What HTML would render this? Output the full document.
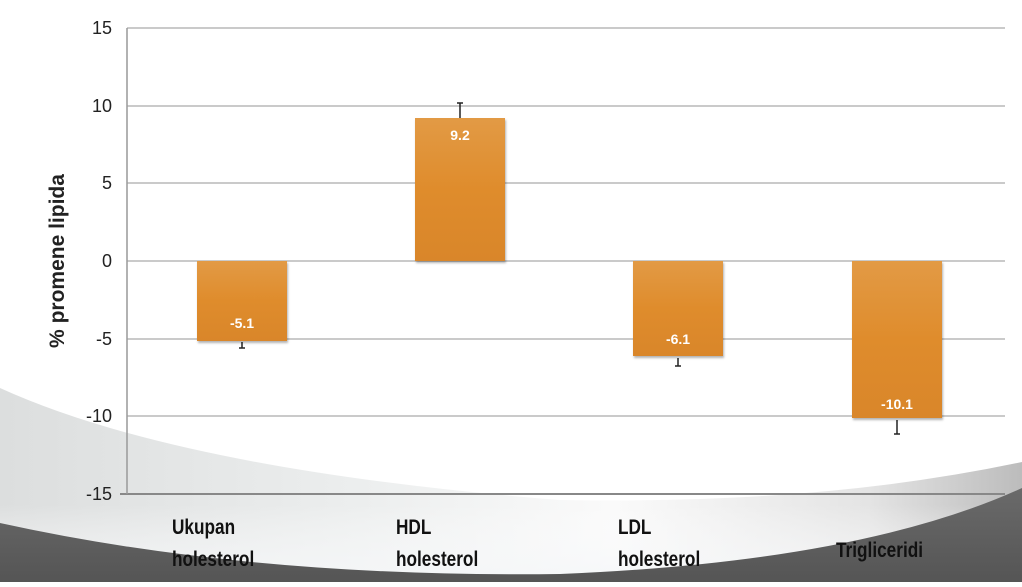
<!DOCTYPE html><html><head><style>body{margin:0;width:1022px;height:582px;overflow:hidden;background:#fff}</style></head><body>
<svg width="1022" height="582" xmlns="http://www.w3.org/2000/svg" font-family="Liberation Sans, sans-serif">
<defs>
<linearGradient id="lg" x1="0" y1="0" x2="1" y2="0"><stop offset="0" stop-color="#dcdede"/><stop offset="0.35" stop-color="#eceeee"/><stop offset="0.6" stop-color="#fafafa"/><stop offset="0.85" stop-color="#e4e4e4"/><stop offset="1" stop-color="#bcbcbc"/></linearGradient>
<linearGradient id="wv" x1="0" y1="0" x2="0" y2="1"><stop offset="0" stop-color="#fff" stop-opacity="0"/><stop offset="0.6" stop-color="#fff" stop-opacity="0"/><stop offset="1" stop-color="#f4f6f8" stop-opacity="0.9"/></linearGradient>
<linearGradient id="dk" x1="0" y1="0" x2="0" y2="1"><stop offset="0" stop-color="#6a6a6a"/><stop offset="1" stop-color="#555"/></linearGradient>
<linearGradient id="bar" x1="0" y1="0" x2="0" y2="1"><stop offset="0" stop-color="#e29a45"/><stop offset="0.5" stop-color="#df8c2c"/><stop offset="1" stop-color="#d9862a"/></linearGradient>
</defs>
<path d="M0,388 Q180,470 560,500 Q820,505 1022,462 L1022,582 L0,582 Z" fill="url(#lg)"/>
<path d="M0,388 Q180,470 560,500 Q820,505 1022,462 L1022,582 L0,582 Z" fill="url(#wv)"/>
<path d="M0,523 Q250,578 560,574 Q860,562 1022,488 L1022,582 L0,582 Z" fill="url(#dk)"/>
<g stroke="#b9b9b9" stroke-width="1.5">
<line x1="127" y1="28" x2="1005" y2="28"/><line x1="127" y1="106" x2="1005" y2="106"/><line x1="127" y1="183" x2="1005" y2="183"/><line x1="127" y1="261" x2="1005" y2="261"/><line x1="127" y1="339" x2="1005" y2="339"/><line x1="127" y1="416" x2="1005" y2="416"/>
</g>
<line x1="120" y1="494" x2="1005" y2="494" stroke="#888" stroke-width="2"/>
<line x1="127" y1="28" x2="127" y2="494" stroke="#999" stroke-width="1.5"/>
<g fill="#222" font-size="18" text-anchor="end">
<text x="112" y="34">15</text><text x="112" y="112">10</text><text x="112" y="189">5</text><text x="112" y="267">0</text><text x="112" y="345">-5</text><text x="112" y="422">-10</text><text x="112" y="500">-15</text>
</g>
<text transform="translate(64,261) rotate(-90)" text-anchor="middle" font-size="21" font-weight="bold" fill="#222">% promene lipida</text>
<g stroke="#222" stroke-width="1.5">
<line x1="242" y1="342" x2="242" y2="348"/><line x1="239" y1="348" x2="245" y2="348"/>
<line x1="460" y1="118" x2="460" y2="103"/><line x1="457" y1="103" x2="463" y2="103"/>
<line x1="678" y1="358" x2="678" y2="366"/><line x1="675" y1="366" x2="681" y2="366"/>
<line x1="897" y1="420" x2="897" y2="434"/><line x1="894" y1="434" x2="900" y2="434"/>
</g>
<g fill="url(#bar)" style="filter:drop-shadow(1px 2px 1px rgba(0,0,0,.3))">
<rect x="197" y="261" width="90" height="80"/>
<rect x="415" y="118" width="90" height="143"/>
<rect x="633" y="261" width="90" height="95"/>
<rect x="852" y="261" width="90" height="157"/>
</g>
<g fill="#fff" font-size="14" font-weight="bold" text-anchor="middle">
<text x="242" y="328">-5.1</text><text x="460" y="140">9.2</text><text x="678" y="344">-6.1</text><text x="897" y="409">-10.1</text>
</g>
<g fill="#111" font-size="21" font-weight="bold">
<g transform="translate(172,0) scale(0.82,1)"><text x="0" y="534">Ukupan</text><text x="0" y="566">holesterol</text></g>
<g transform="translate(396,0) scale(0.82,1)"><text x="0" y="534">HDL</text><text x="0" y="566">holesterol</text></g>
<g transform="translate(618,0) scale(0.82,1)"><text x="0" y="534">LDL</text><text x="0" y="566">holesterol</text></g>
<g transform="translate(836,0) scale(0.82,1)"><text x="0" y="557">Trigliceridi</text></g>
</g>
</svg>
</body></html>
